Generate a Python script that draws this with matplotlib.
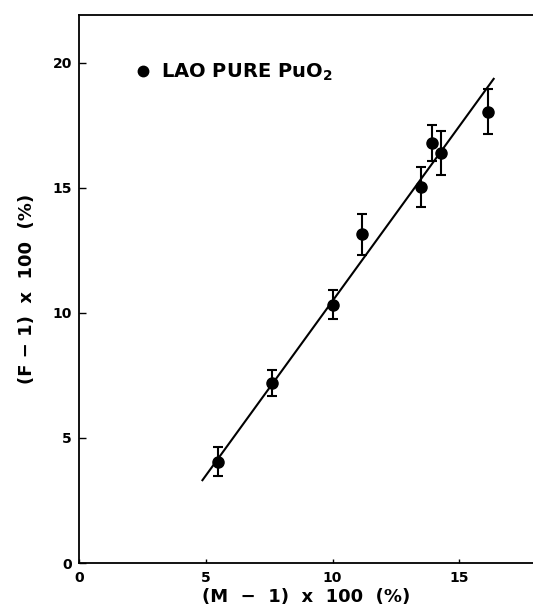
import matplotlib
matplotlib.use("Agg")
import matplotlib.pyplot as plt
from matplotlib.lines import Line2D

plt.rcParams['font.family'] = ['DejaVu Sans']
plt.rcParams['font.weight'] = 'bold'
plt.rcParams['mathtext.fontset'] = 'dejavusans'
plt.rcParams['mathtext.default'] = 'bf'

# Data
m_vals = [5.48, 7.6, 10.01, 11.14, 13.49, 13.93, 14.28, 16.12]
f_vals = [4.04, 7.18, 10.33, 13.13, 15.03, 16.78, 16.39, 18.03]
f_err = [0.58, 0.52, 0.57, 0.8, 0.8, 0.72, 0.87, 0.9]
fit_x = [4.87, 16.35]
fit_y = [3.31, 19.35]
xticks = [0, 5, 10, 15]
yticks = [0, 5, 10, 15, 20]
legend_label = r"LAO PURE PuO$_2$"

fig = plt.figure(figsize=(5.33, 6.09), dpi=100)
ax = fig.add_axes([0.148, 0.0755, 0.852, 0.8998])

ax.plot(fit_x, fit_y, color='black', lw=1.5)
ax.errorbar(m_vals, f_vals, yerr=f_err, fmt='o', color='black',
            markersize=8, elinewidth=1.5, capsize=3.5, capthick=1.5)

ax.set_xlim(0, 17.9)
ax.set_ylim(0, 21.9)
ax.set_xticks(xticks)
ax.set_yticks(yticks)
ax.tick_params(direction='in', length=5, width=1, labelsize=10, pad=5)
ax.tick_params(axis='x', length=3, pad=6)
for lab in ax.get_xticklabels() + ax.get_yticklabels():
    lab.set_fontweight('bold')

ax.spines['right'].set_visible(False)
for s in ['left', 'bottom', 'top']:
    ax.spines[s].set_linewidth(1.3)

ax.set_xlabel("(M  \u2212  1)  x  100  (%)", fontsize=13, fontweight='bold', labelpad=2)
ax.set_ylabel("(F \u2212 1)  x  100  (%)", fontsize=13, fontweight='bold', labelpad=12)

handle = Line2D([], [], marker='o', color='black', linestyle='none', markersize=7.5)
ax.legend([handle], [legend_label], loc='center left',
          bbox_to_anchor=(0.108, 0.895), frameon=False,
          handlelength=0.8, handletextpad=0.5, borderaxespad=0,
          prop={'weight': 'bold', 'size': 14})

fig.savefig("out.png", dpi=100)
